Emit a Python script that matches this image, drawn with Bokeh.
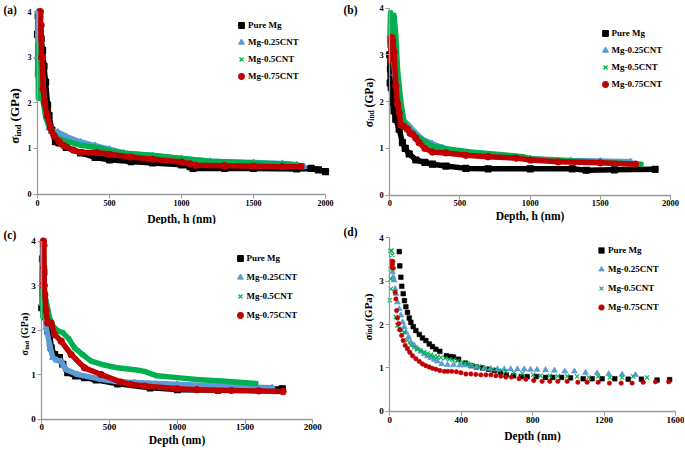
from bokeh.plotting import figure
from bokeh.layouts import column, row
from bokeh.models import FixedTicker, Label, Legend, LegendItem, Range1d
from bokeh.embed import file_html
from bokeh.resources import INLINE

# ---------------- data ----------------
SERIES = ["Pure Mg", "Mg-0.25CNT", "Mg-0.5CNT", "Mg-0.75CNT"]
COLORS = ["#000000", "#5B9BD5", "#00B050", "#C00000"]
MARKERS = ["square", "triangle", "x", "circle"]
Y_TICKS = [0, 1, 2, 3, 4]
X_TICKS_ABC = [0, 500, 1000, 1500, 2000]
X_TICKS_D = [0, 400, 800, 1200, 1600]

# panel (a)
a_pure_x = [0, 5, 10, 15, 25, 35, 45, 56, 70, 80, 100, 125, 150, 200, 300, 400, 500, 650, 800, 1000, 1060, 1080, 1300, 1500, 1800, 1900, 1950, 2000]
a_pure_y = [3.5, 3.9, 3.3, 3.9, 3.4, 3.15, 2.8, 2.45, 1.95, 1.72, 1.4, 1.15, 1.12, 1.02, 0.9, 0.8, 0.75, 0.71, 0.68, 0.64, 0.6, 0.56, 0.56, 0.56, 0.55, 0.56, 0.53, 0.49]
a_025_x = [0, 5, 10, 15, 20, 30, 45, 60, 80, 100, 140, 200, 300, 400, 500, 600, 800, 1000, 1200, 1500, 1700, 1800, 1850]
a_025_y = [3.0, 4.0, 3.6, 3.4, 2.6, 2.9, 2.1, 1.7, 1.45, 1.38, 1.36, 1.26, 1.14, 1.06, 0.98, 0.9, 0.84, 0.78, 0.72, 0.69, 0.67, 0.64, 0.6]
a_05_x = [0, 3, 6, 9, 12, 20, 30, 44, 60, 90, 130, 183, 300, 414, 500, 646, 800, 1000, 1200, 1500, 1750, 1830]
a_05_y = [2.6, 3.3, 2.1, 3.2, 2.8, 2.4, 2.2, 1.94, 1.65, 1.43, 1.25, 1.17, 1.07, 1.02, 0.95, 0.88, 0.85, 0.78, 0.72, 0.68, 0.65, 0.62]
a_075_x = [20, 22, 25, 28, 33, 39, 50, 67, 90, 114, 150, 183, 250, 300, 414, 500, 646, 800, 1000, 1060, 1100, 1300, 1500, 1700, 1830]
a_075_y = [4.0, 3.4, 3.7, 3.0, 3.0, 2.3, 2.0, 1.72, 1.45, 1.28, 1.15, 1.06, 0.96, 0.91, 0.91, 0.87, 0.81, 0.76, 0.7, 0.66, 0.63, 0.62, 0.61, 0.6, 0.6]

# panel (b)
b_pure_x = [0, 3, 5, 10, 19, 30, 43, 67, 90, 110, 138, 186, 250, 304, 400, 542, 700, 1000, 1300, 1400, 1600, 1890]
b_pure_y = [3.0, 2.4, 2.7, 2.3, 1.98, 1.8, 1.62, 1.41, 1.12, 1.0, 0.88, 0.75, 0.7, 0.66, 0.62, 0.57, 0.56, 0.56, 0.56, 0.53, 0.54, 0.55]
b_025_x = [0, 10, 20, 35, 55, 80, 100, 138, 186, 233, 300, 375, 500, 575, 800, 1000, 1290, 1500, 1715]
b_025_y = [3.4, 3.0, 3.2, 2.6, 2.12, 1.75, 1.6, 1.48, 1.32, 1.19, 1.1, 1.01, 0.93, 0.87, 0.82, 0.78, 0.74, 0.73, 0.71]
b_05_x = [0, 5, 10, 15, 20, 30, 43, 55, 79, 102, 140, 186, 304, 423, 575, 800, 950, 1000, 1200, 1500, 1790]
b_05_y = [3.2, 3.9, 3.5, 3.8, 3.6, 3.85, 3.4, 2.69, 1.98, 1.55, 1.4, 1.27, 1.05, 0.98, 0.92, 0.86, 0.82, 0.77, 0.74, 0.7, 0.66]
b_075_x = [5, 10, 14, 20, 31, 43, 55, 67, 79, 100, 126, 145, 162, 185, 209, 250, 304, 400, 542, 700, 900, 1003, 1200, 1500, 1750]
b_075_y = [2.9, 3.3, 3.37, 3.3, 3.05, 2.34, 1.95, 1.76, 1.5, 1.47, 1.41, 1.32, 1.3, 1.22, 1.12, 1.0, 0.92, 0.9, 0.85, 0.82, 0.79, 0.75, 0.71, 0.69, 0.66]

# panel (c)
c_pure_x = [0, 5, 10, 15, 20, 25, 44, 58, 69, 94, 130, 155, 192, 250, 315, 400, 560, 800, 1000, 1300, 1600, 1775]
c_pure_y = [2.5, 3.6, 2.8, 3.3, 2.7, 2.3, 1.98, 2.0, 1.6, 1.45, 1.38, 1.23, 1.04, 0.97, 0.93, 0.88, 0.79, 0.7, 0.66, 0.65, 0.66, 0.68]
c_025_x = [0, 3, 5, 8, 12, 18, 25, 32, 57, 81, 110, 143, 160, 180, 265, 438, 550, 683, 1000, 1300, 1500, 1700]
c_025_y = [2.6, 3.0, 4.0, 3.7, 3.2, 2.8, 2.3, 2.05, 1.68, 1.38, 1.32, 1.3, 1.2, 1.11, 1.0, 0.89, 0.84, 0.82, 0.78, 0.74, 0.72, 0.7]
c_05_x = [0, 3, 8, 15, 25, 32, 57, 80, 118, 155, 200, 241, 300, 364, 450, 560, 700, 757, 850, 1000, 1145, 1350, 1580]
c_05_y = [2.9, 3.0, 2.3, 2.8, 2.7, 2.65, 2.28, 2.1, 1.98, 1.94, 1.8, 1.6, 1.45, 1.3, 1.22, 1.15, 1.1, 1.07, 0.97, 0.93, 0.89, 0.85, 0.8]
c_075_x = [10, 12, 14, 16, 18, 22, 32, 44, 69, 94, 143, 217, 315, 438, 585, 654, 757, 1000, 1145, 1400, 1600, 1780]
c_075_y = [3.0, 4.0, 3.4, 3.9, 3.0, 2.8, 2.43, 2.16, 2.16, 1.9, 1.75, 1.45, 1.15, 1.0, 0.83, 0.78, 0.74, 0.68, 0.66, 0.64, 0.63, 0.62]

# panel (d)
d_pure_x = [53, 56, 62, 67, 75, 82, 90, 99, 109, 118, 131, 146, 165, 183, 202, 221, 239, 258, 280, 317, 338, 357, 385, 422, 454, 485, 519, 553, 586, 620, 652, 694, 736, 769, 820, 872, 913, 962, 1012, 1083, 1133, 1189, 1260, 1335, 1409, 1497, 1567]
d_pure_y = [3.68, 3.35, 3.09, 2.88, 2.71, 2.55, 2.41, 2.28, 2.15, 2.05, 1.95, 1.86, 1.77, 1.69, 1.63, 1.55, 1.49, 1.43, 1.38, 1.28, 1.26, 1.25, 1.2, 1.11, 1.05, 1.02, 1.0, 0.97, 0.94, 0.9, 0.84, 0.82, 0.8, 0.8, 0.8, 0.78, 0.78, 0.78, 0.77, 0.75, 0.75, 0.75, 0.75, 0.74, 0.74, 0.72, 0.73]
d_025_x = [10, 15, 19, 24, 30, 34, 43, 53, 62, 71, 81, 90, 105, 118, 137, 155, 174, 193, 211, 230, 249, 267, 291, 323, 357, 392, 422, 454, 487, 529, 565, 603, 641, 677, 715, 753, 788, 825, 872, 922, 980, 1034, 1096, 1161, 1226, 1301, 1376]
d_025_y = [3.35, 3.21, 3.09, 3.02, 2.82, 2.71, 2.51, 2.36, 2.21, 2.05, 1.94, 1.82, 1.71, 1.59, 1.52, 1.44, 1.38, 1.32, 1.27, 1.23, 1.19, 1.15, 1.09, 1.07, 1.07, 1.06, 1.06, 1.05, 1.02, 0.99, 0.98, 0.97, 0.97, 0.97, 0.97, 0.97, 0.96, 0.96, 0.95, 0.94, 0.92, 0.92, 0.89, 0.88, 0.86, 0.85, 0.84]
d_05_x = [0, 4, 5, 5, 6, 10, 14, 34, 43, 53, 67, 81, 99, 118, 137, 155, 174, 193, 211, 230, 249, 267, 286, 310, 332, 355, 379, 407, 435, 463, 500, 538, 575, 612, 650, 696, 743, 803, 844, 896, 941, 993, 1049, 1114, 1167, 1232, 1301, 1363, 1441]
d_05_y = [2.56, 3.7, 3.28, 3.05, 2.82, 3.7, 3.6, 2.17, 1.98, 1.9, 1.86, 1.82, 1.63, 1.52, 1.47, 1.43, 1.4, 1.36, 1.33, 1.3, 1.27, 1.25, 1.24, 1.22, 1.2, 1.18, 1.16, 1.13, 1.1, 1.07, 1.03, 0.99, 0.96, 0.94, 0.92, 0.89, 0.87, 0.84, 0.82, 0.82, 0.81, 0.81, 0.8, 0.78, 0.8, 0.78, 0.78, 0.8, 0.78]
d_075_x = [10, 12, 14, 17, 20, 30, 34, 38, 43, 49, 56, 66, 75, 86, 99, 112, 127, 146, 165, 183, 202, 221, 239, 258, 280, 305, 325, 347, 373, 398, 426, 454, 482, 510, 538, 566, 594, 622, 650, 681, 724, 762, 806, 853, 896, 941, 993, 1053, 1105, 1167, 1230, 1296, 1357, 1419, 1488, 1562]
d_075_y = [3.46, 3.33, 3.39, 3.45, 3.3, 2.74, 2.59, 2.32, 2.15, 2.02, 1.88, 1.75, 1.63, 1.52, 1.44, 1.36, 1.28, 1.21, 1.15, 1.09, 1.05, 1.02, 0.99, 0.97, 0.94, 0.92, 0.92, 0.92, 0.91, 0.89, 0.86, 0.86, 0.85, 0.84, 0.84, 0.84, 0.82, 0.81, 0.79, 0.79, 0.75, 0.74, 0.71, 0.69, 0.69, 0.69, 0.69, 0.67, 0.67, 0.67, 0.65, 0.65, 0.65, 0.67, 0.68, 0.68]

FONT = "Liberation Serif"
AXIS = "#9a9a9a"


def make_panel(W, H, xpix, ypix, xmax, xticks, xlabel, data, dense, tick_fs,
               tick_standoff, label_standoff, legend_xy, legend_spacing, ylab,
               letter_xy, letter):
    # pixel positions (inside this figure) of x=0 / x=xmax and y=0 / y=4
    px0, px1 = xpix
    py0, py4 = ypix
    kx = (px1 - px0) / xmax
    ky = (py0 - py4) / 4.0
    xs0 = -px0 / kx
    ys0 = -(H - py0) / ky
    p = figure(width=W, height=H, output_backend="svg", toolbar_location=None,
               x_range=Range1d(xs0, xs0 + W / kx),
               y_range=Range1d(ys0, ys0 + H / ky),
               min_border=0, min_border_left=0, min_border_right=0,
               min_border_top=0, min_border_bottom=0)
    p.grid.visible = False
    p.outline_line_color = None
    xa, ya = p.xaxis[0], p.yaxis[0]
    xa.fixed_location = 0
    ya.fixed_location = 0
    xa.bounds = (0, xmax)
    ya.bounds = (0, 4)
    for ax in (xa, ya):
        ax.axis_line_color = AXIS
        ax.axis_line_width = 1.3
        ax.major_tick_line_color = AXIS
        ax.major_tick_out = 4
        ax.major_tick_in = 0
        ax.minor_tick_line_color = None
        ax.major_label_text_font = FONT
        ax.major_label_text_font_style = "bold"
        ax.major_label_text_font_size = tick_fs
        ax.major_label_text_color = "#000000"
        ax.major_label_standoff = 2
    xa.major_label_standoff = tick_standoff
    xa.ticker = FixedTicker(ticks=xticks)
    ya.ticker = FixedTicker(ticks=Y_TICKS)
    xa.axis_label = xlabel
    xa.axis_label_text_font = FONT
    xa.axis_label_text_font_style = "bold"
    xa.axis_label_text_font_size = "11.5px"
    xa.axis_label_text_color = "#000000"
    xa.axis_label_standoff = label_standoff

    items = []
    for (xs, ys), name, col, mk in zip(data, SERIES, COLORS, MARKERS):
        if dense:
            p.line(xs, ys, line_color=col, line_width=5.5, line_join="round",
                   line_cap="round")
            r = p.scatter(xs, ys, marker=mk, size=6, fill_color=col,
                          line_color=col, line_width=1.2)
        else:
            sz = {"square": 4.6, "triangle": 6, "x": 6, "circle": 4.4}[mk]
            lw = 1.1 if mk == "x" else 0.6
            r = p.scatter(xs, ys, marker=mk, size=sz, fill_color=col,
                          line_color=col, line_width=lw)
        items.append(LegendItem(label=name, renderers=[r]))

    legend = Legend(items=items, location=legend_xy, orientation="vertical",
                    glyph_width=14, glyph_height=14, label_height=14,
                    spacing=legend_spacing, padding=0, margin=0,
                    label_standoff=0, border_line_color=None,
                    background_fill_alpha=0, label_text_font=FONT,
                    label_text_font_style="bold", label_text_font_size="9px",
                    label_text_color="#000000")
    p.add_layout(legend)

    lx, ly, fs = ylab
    common = dict(x_units="screen", y_units="screen", angle=90,
                  angle_units="deg", text_font=FONT, text_font_style="bold",
                  text_color="#000000", text_align="left",
                  text_baseline="middle")
    p.add_layout(Label(x=lx, y=ly, text="σ", text_font_size=f"{fs}px", **common))
    p.add_layout(Label(x=lx, y=ly, x_offset=0.25 * fs, y_offset=0.57 * fs,
                       text="ind", text_font_size=f"{0.65 * fs:.1f}px", **common))
    p.add_layout(Label(x=lx, y=ly, y_offset=1.72 * fs, text="(GPa)",
                       text_font_size=f"{fs}px", **common))

    p.add_layout(Label(x=letter_xy[0], y=letter_xy[1], x_units="screen",
                       y_units="screen", text=letter, text_font=FONT,
                       text_font_style="bold", text_font_size="11.5px",
                       text_color="#000000", text_align="left",
                       text_baseline="top"))
    return p


pa = make_panel(342, 224, (37, 325), (193.5, 11), 2000, X_TICKS_ABC,
                "Depth, h (nm)",
                [(a_pure_x, a_pure_y), (a_025_x, a_025_y), (a_05_x, a_05_y),
                 (a_075_x, a_075_y)], True, "8px", 2, 3,
                (234, 141), 3, (14, 80.7, 13), (3, 221), "(a)")
pb = make_panel(342, 224, (47.3, 328), (194.5, 7.7), 2000, X_TICKS_ABC,
                "Depth, h (nm)",
                [(b_pure_x, b_pure_y), (b_025_x, b_025_y), (b_05_x, b_05_y),
                 (b_075_x, b_075_y)], True, "8.5px", 1, 0,
                (255.5, 132.7), 3, (26, 97.3, 11.5), (1, 221), "(b)")
pc = make_panel(342, 225, (41.3, 312.3), (194.5, 16.5), 2000, X_TICKS_ABC,
                "Depth (nm)",
                [(c_pure_x, c_pure_y), (c_025_x, c_025_y), (c_05_x, c_05_y),
                 (c_075_x, c_075_y)], True, "9px", 1, 0,
                (232.5, 126.7), 5, (23.5, 94, 10), (3, 221), "(c)")
pd = make_panel(342, 225, (47.3, 333), (186.8, 13.2), 1600, X_TICKS_D,
                "Depth (nm)",
                [(d_pure_x, d_pure_y), (d_025_x, d_025_y), (d_05_x, d_05_y),
                 (d_075_x, d_075_y)], False, "9px", 2, 3,
                (252, 135), 5, (25, 109, 11), (1, 224), "(d)")

layout = column(row(pa, pb), row(pc, pd))

with open("out.html", "w") as f:
    f.write(file_html(layout, INLINE))
